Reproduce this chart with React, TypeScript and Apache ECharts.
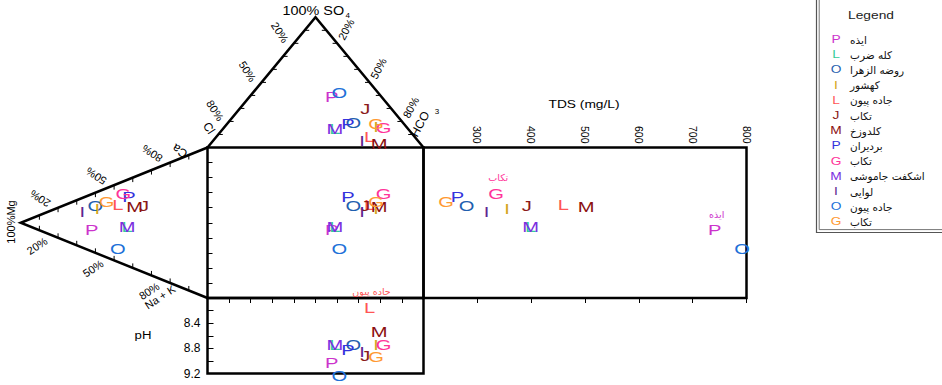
import React, { useEffect, useRef } from 'react';
import * as echarts from 'echarts';

// ---------------- data ----------------
const sampleNames = ['ایذه', 'کله ضرب', 'روضه الزهرا', 'کهشور', 'جاده پیون', 'تکاب', 'کلدوزخ', 'بردیران', 'تکاب', 'اشکفت جاموشی', 'لوایی', 'جاده پیون', 'تکاب'];
const sampleLetters = ['P', 'L', 'O', 'I', 'L', 'J', 'M', 'P', 'G', 'M', 'I', 'O', 'G'];
// anions (% meq)
const so4 = [39, 14, 19, 16, 8, 30, 3, 18, 15, 14, 5, 42, 18];
const hco3 = [38, 52, 58, 70, 71, 58, 78, 56, 74, 52, 69, 40, 69];
const cl = [23, 34, 23, 14, 21, 12, 19, 26, 11, 34, 26, 18, 13];
// cations (% meq)
const ca = [14, 26, 31, 30, 38, 44, 41, 46, 47, 26, 24, 9, 37];
const mg = [62, 43, 60, 59, 48, 34, 39, 42, 45, 43, 67, 48, 54];
const naK = [24, 31, 9, 11, 14, 22, 20, 12, 8, 31, 9, 43, 9];
// TDS (mg/L) and pH
const tds = [741, 399, 280, 355, 460, 392, 502, 263, 335, 399, 317, 792, 242];
const ph = [9.03, 8.75, 8.74, 8.75, 8.15, 8.92, 8.54, 8.83, 8.75, 8.75, 8.85, 9.23, 8.93];

const tdsTickLabels = ['300', '400', '500', '600', '700', '800'];
const phTickLabels = ['8.4', '8.8', '9.2'];
const ternaryTickLabels = ['20%', '50%', '80%'];
const tdsLabelled = [8, 0];
const phLabelled = [4];

// ---------------- style ----------------
const sampleColors = ['#CC33CC', '#33CC99', '#1F5FAF', '#D4A520', '#FF5555', '#8B1A1A', '#8B1010', '#3333DD', '#FF3399', '#7B2FE0', '#5E2590', '#2070D8', '#FF9933'];
const FONT = "'Liberation Sans', Arial, Helvetica, sans-serif";
const ARFONT = "'DejaVu Sans', 'Noto Sans', sans-serif";

// ---------------- layout ----------------
const SQ = { left: 207.5, top: 147.5, width: 216, height: 150.5 };
const TDSBOX = { left: SQ.left + SQ.width, top: SQ.top, width: 323, height: SQ.height };
const PHBOX = { left: SQ.left, top: SQ.top + SQ.height, width: SQ.width, height: 75.5 };
const APEX_TOP_Y = 17.3;
const APEX_LEFT_X = 20.7;
const TOPTRI = { left: SQ.left, top: APEX_TOP_Y, width: SQ.width, height: SQ.top - APEX_TOP_Y };
const LEFTTRI = { left: APEX_LEFT_X, top: SQ.top, width: SQ.left - APEX_LEFT_X, height: SQ.height };

// ---------------- derived coordinates ----------------
const anionX = (i: number) => (hco3[i] + so4[i] / 2) / (so4[i] + hco3[i] + cl[i]);
const anionY = (i: number) => so4[i] / (so4[i] + hco3[i] + cl[i]);
const cationX = (i: number) => (ca[i] + naK[i]) / (ca[i] + mg[i] + naK[i]);
const cationY = (i: number) => 0.5 + (ca[i] - naK[i]) / (2 * (ca[i] + mg[i] + naK[i]));

const idx = sampleNames.map((_, i) => i);
const topData = idx.map((i) => [anionX(i), anionY(i)]);
const leftData = idx.map((i) => [cationX(i), cationY(i)]);
const sqData = idx.map((i) => [100 * anionX(i), 100 * cationY(i)]);
const tdsData = idx.map((i) => [tds[i], 100 * cationY(i)]);
const phData = idx.map((i) => [100 * anionX(i), ph[i]]);

type P = [number, number];
const lerp = (a: P, b: P, t: number): P => [a[0] + (b[0] - a[0]) * t, a[1] + (b[1] - a[1]) * t];

function buildGraphics() {
  const g: any[] = [];
  const line = (x1: number, y1: number, x2: number, y2: number, w = 1) => ({
    type: 'line', shape: { x1, y1, x2, y2 }, style: { stroke: '#000', lineWidth: w }, z: 20,
  });
  const txt = (text: string, x: number, y: number, fontSize: number, rotation = 0, extra: any = {}) => ({
    type: 'text', x, y, rotation, z: 20,
    style: { text, fill: '#000', fontSize, fontFamily: FONT, align: 'center', verticalAlign: 'middle', ...extra },
  });

  // top (anion) triangle
  const apexT: P = [SQ.left + SQ.width / 2, APEX_TOP_Y];
  const clC: P = [SQ.left, SQ.top];
  const hcC: P = [SQ.left + SQ.width, SQ.top];
  g.push({ type: 'polyline', shape: { points: [clC, apexT, hcC] }, style: { stroke: '#000', lineWidth: 2.5, fill: null }, z: 20 });
  for (let k = 1; k < 10; k++) {
    const a = lerp(apexT, clC, k / 10);
    g.push(line(a[0], a[1], a[0] + 4.5, a[1]));
    const b = lerp(apexT, hcC, k / 10);
    g.push(line(b[0], b[1], b[0] - 4.5, b[1]));
  }
  [0.2, 0.5, 0.8].forEach((t, j) => {
    const a = lerp(apexT, clC, t);
    g.push(txt(ternaryTickLabels[j], a[0] - 14, a[1] - 11, 11, -1.0));
    const b = lerp(apexT, hcC, t);
    g.push(txt(ternaryTickLabels[j], b[0] + 9, b[1] - 14, 11, 1.08));
  });
  g.push(txt('Cl', 209, 128, 12, -1.0));
  g.push(txt('HCO', 420, 124, 12, 1.08));
  g.push(txt('3', 437, 111, 8));
  g.push({ type: 'text', x: 282.5, y: 11, scaleX: 1.2, z: 20, style: { text: '100% SO', fill: '#000', fontSize: 12, fontFamily: FONT, align: 'left', verticalAlign: 'middle' } });
  g.push({ type: 'text', x: 345.5, y: 15, z: 20, style: { text: '4', fill: '#000', fontSize: 8, fontFamily: FONT, align: 'left', verticalAlign: 'middle' } });

  // left (cation) triangle
  const apexL: P = [APEX_LEFT_X, SQ.top + SQ.height / 2];
  const caC: P = [SQ.left, SQ.top];
  const naC: P = [SQ.left, SQ.top + SQ.height];
  g.push({ type: 'polyline', shape: { points: [caC, apexL, naC] }, style: { stroke: '#000', lineWidth: 2.5, fill: null }, z: 20 });
  for (let k = 1; k < 10; k++) {
    const a = lerp(apexL, caC, k / 10);
    g.push(line(a[0], a[1], a[0], a[1] + 4.5));
    const b = lerp(apexL, naC, k / 10);
    g.push(line(b[0], b[1], b[0], b[1] - 4.5));
  }
  [0.2, 0.5, 0.8].forEach((t, j) => {
    const a = lerp(apexL, caC, t);
    g.push(txt(ternaryTickLabels[j], a[0] - 18, a[1] - 9, 11, 2.57));
    const b = lerp(apexL, naC, t);
    g.push(txt(ternaryTickLabels[j], b[0] - 21, b[1] + 8, 11, 0.58));
  });
  g.push(txt('Ca', 180, 151, 12, 2.57));
  g.push(txt('Na + K', 160, 297, 11, 0.58));
  g.push(txt('100%Mg', 11, 222, 11, Math.PI / 2));

  // titles
  g.push({ type: 'text', x: 584, y: 104, scaleX: 1.25, z: 20, style: { text: 'TDS (mg/L)', fill: '#000', fontSize: 11, fontFamily: FONT, align: 'center', verticalAlign: 'middle' } });
  g.push({ type: 'text', x: 143, y: 335, scaleX: 1.2, z: 20, style: { text: 'pH', fill: '#000', fontSize: 11, fontFamily: FONT, align: 'center', verticalAlign: 'middle' } });

  // legend box
  g.push({ type: 'rect', shape: { x: 816.5, y: -5, width: 200, height: 237.5 }, style: { stroke: '#555', lineWidth: 1.2, fill: '#fff' }, z: 19 });
  g.push({ type: 'rect', shape: { x: 819.2, y: -5, width: 200, height: 234.6 }, style: { stroke: '#777', lineWidth: 1, fill: null }, z: 20 });
  g.push({ type: 'text', x: 871, y: 15, scaleX: 1.25, z: 20, style: { text: 'Legend', fill: '#222', fontSize: 11, fontFamily: FONT, align: 'center', verticalAlign: 'middle' } });
  sampleNames.forEach((n, i) => {
    const y = 39.5 + i * 15.2;
    g.push({ type: 'text', x: 836, y, scaleX: 1.25, z: 20, style: { text: sampleLetters[i], fill: sampleColors[i], fontSize: 11, fontFamily: FONT, align: 'center', verticalAlign: 'middle' } });
    g.push({ type: 'text', x: 850, y, z: 20, style: { text: n, fill: '#111', fontSize: 10.5, fontFamily: ARFONT, align: 'left', verticalAlign: 'middle' } });
  });
  return g;
}

const letterSeries = (name: string, gi: number, data: number[][], labelled: number[] = []) => ({
  type: 'custom',
  name,
  coordinateSystem: 'cartesian2d',
  xAxisIndex: gi,
  yAxisIndex: gi,
  clip: false,
  z: 5,
  data,
  renderItem: (params: any, api: any) => {
    const i = params.dataIndex;
    const p = api.coord([api.value(0), api.value(1)]);
    const children: any[] = [
      {
        type: 'text', x: p[0], y: p[1], scaleX: 1.3,
        style: { text: sampleLetters[i], fill: sampleColors[i], fontSize: 15.5, fontFamily: FONT, align: 'center', verticalAlign: 'middle' },
      },
    ];
    if (labelled.includes(i)) {
      children.push({
        type: 'text', x: p[0] + 2, y: p[1] - 16,
        style: { text: sampleNames[i], fill: sampleColors[i], fontSize: 9.5, fontFamily: ARFONT, align: 'center', verticalAlign: 'middle' },
      });
    }
    return { type: 'group', children };
  },
});

const hiddenAxis = (gridIndex: number, min: number, max: number) => ({ gridIndex, type: 'value', min, max, show: false });
const boxGrid = { show: true, borderColor: '#000', borderWidth: 2.5, backgroundColor: 'transparent', containLabel: false, outerBoundsMode: 'none' };
const tick = { show: true, inside: true, length: 5, lineStyle: { color: '#000', width: 1 } };

const option: any = {
  animation: false,
  backgroundColor: '#fff',
  grid: [
    { ...boxGrid, ...SQ },
    { ...boxGrid, ...TDSBOX },
    { ...boxGrid, ...PHBOX },
    { show: false, containLabel: false, outerBoundsMode: 'none', ...TOPTRI },
    { show: false, containLabel: false, outerBoundsMode: 'none', ...LEFTTRI },
  ],
  xAxis: [
    { gridIndex: 0, type: 'value', min: 0, max: 100, interval: 10, position: 'top', axisLine: { show: false }, axisTick: tick, axisLabel: { show: false }, splitLine: { show: false } },
    {
      gridIndex: 1, type: 'value', min: 200, max: 800, interval: 100, position: 'top',
      axisLine: { show: false }, axisTick: tick, splitLine: { show: false },
      axisLabel: {
        show: true, rotate: -90, margin: 4, fontSize: 10.5, fontFamily: FONT, color: '#000',
        formatter: (v: number) => (tdsTickLabels.includes(String(Math.round(v))) ? String(Math.round(v)) : ''),
      },
    },
    hiddenAxis(2, 0, 100),
    hiddenAxis(3, 0, 1),
    hiddenAxis(4, 0, 1),
  ],
  yAxis: [
    { gridIndex: 0, type: 'value', min: 0, max: 100, interval: 10, axisLine: { show: false }, axisTick: tick, axisLabel: { show: false }, splitLine: { show: false } },
    hiddenAxis(1, 0, 100),
    {
      gridIndex: 2, type: 'value', min: 8.0, max: 9.2, interval: 0.2, inverse: true,
      axisLine: { show: false }, axisTick: { ...tick, length: 6 }, splitLine: { show: false },
      axisLabel: {
        show: true, margin: 7, fontSize: 12, fontFamily: FONT, color: '#000',
        formatter: (v: number) => (phTickLabels.includes(v.toFixed(1)) ? v.toFixed(1) : ''),
      },
    },
    hiddenAxis(3, 0, 1),
    hiddenAxis(4, 0, 1),
  ],
  graphic: buildGraphics(),
  series: [
    letterSeries('square', 0, sqData),
    letterSeries('TDS', 1, tdsData, tdsLabelled),
    letterSeries('pH', 2, phData, phLabelled),
    letterSeries('anions', 3, topData),
    letterSeries('cations', 4, leftData),
  ],
};

export default function App() {
  const ref = useRef<HTMLDivElement>(null);
  useEffect(() => {
    if (!ref.current) return;
    const chart = echarts.init(ref.current, null, { renderer: 'svg' });
    chart.setOption(option);
    return () => chart.dispose();
  }, []);
  return <div ref={ref} style={{ position: 'fixed', left: 0, top: 0, width: 942, height: 385, background: '#fff' }} />;
}
